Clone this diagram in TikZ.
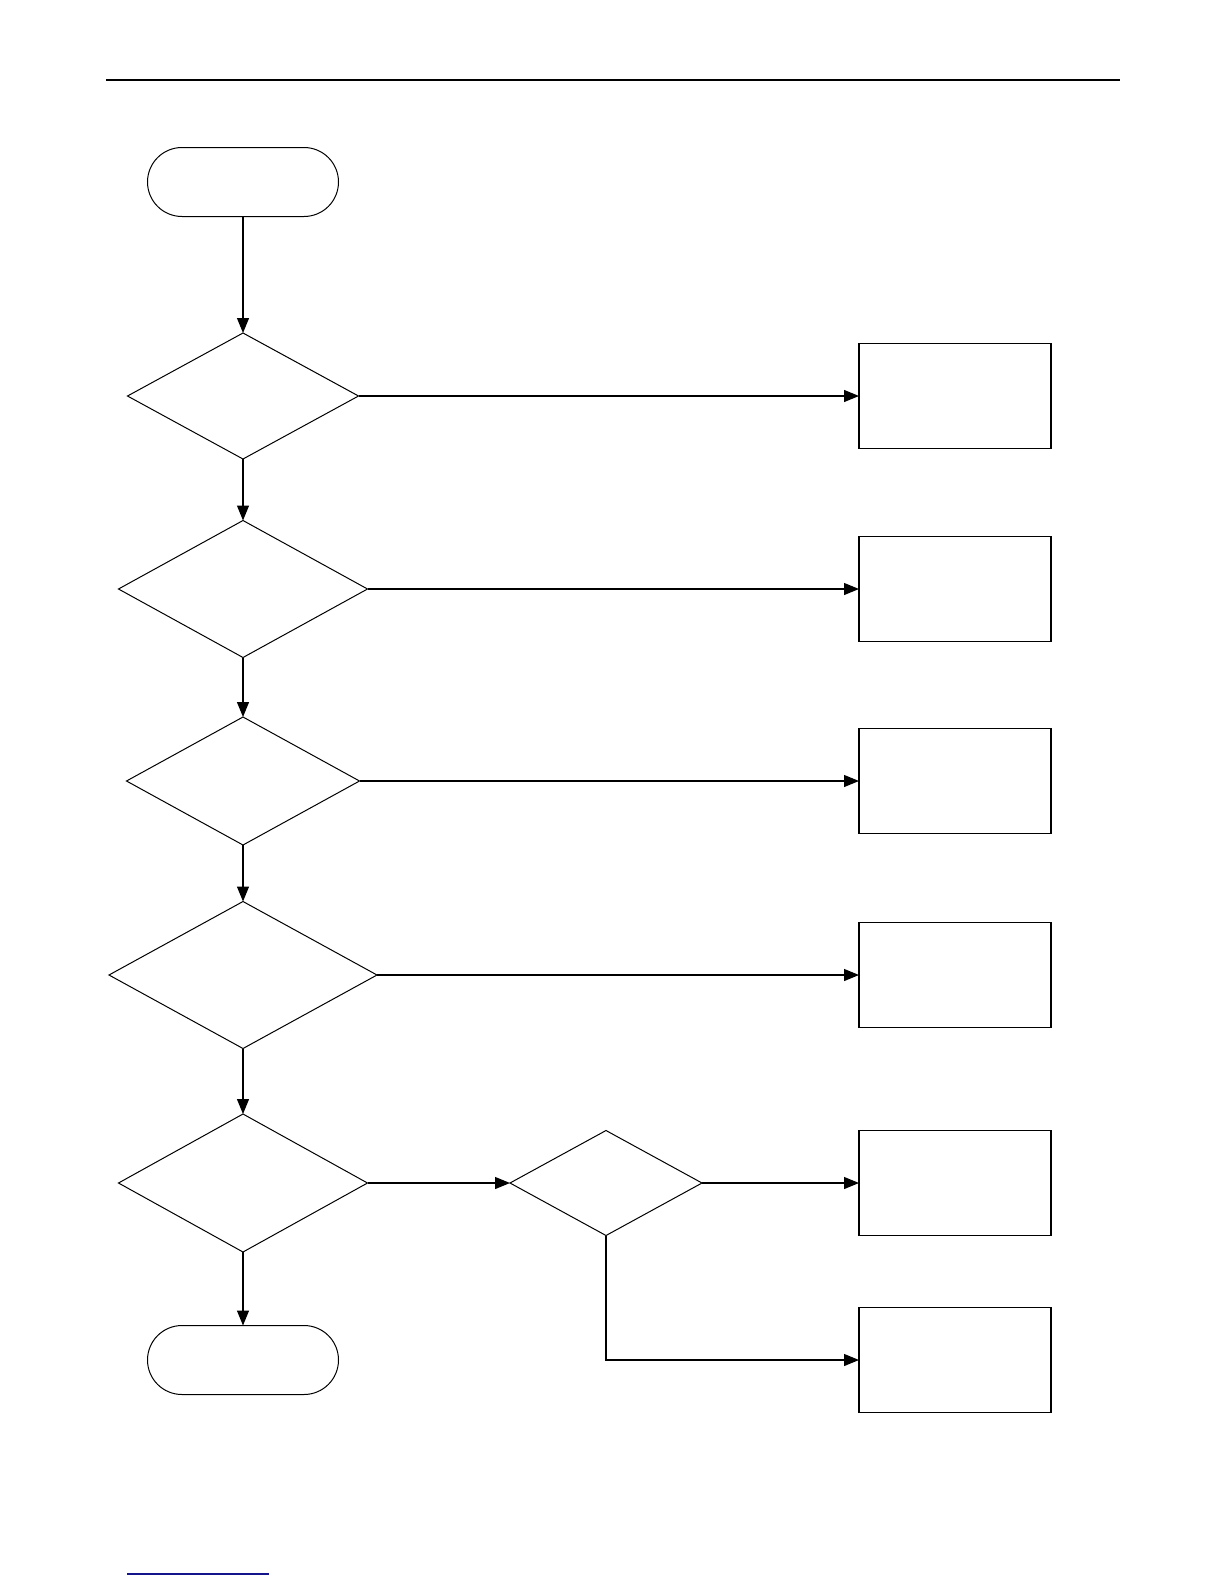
\documentclass[tikz,border=0pt]{standalone}
\usetikzlibrary{shapes.geometric,arrows.meta}
\begin{document}
\begin{tikzpicture}[x=0.5pt,y=-0.5pt,
  every node/.style={inner sep=0pt,outer sep=0pt},
  dia/.style={draw,diamond,line width=0.5pt},
  procbox/.style={draw,rectangle,line width=0.6pt,minimum width=96pt,minimum height=52.5pt},
  term/.style={draw,rectangle,rounded corners=17.25pt,line width=0.5pt,minimum width=95.5pt,minimum height=34.5pt},
  arr/.style={line width=0.6pt,-{Triangle[length=7.5pt,width=6pt]}}]
\useasboundingbox (0,0) rectangle (1224,1584);
% header and footer lines
\coordinate (hl) at (106,80); \coordinate (hr) at (1120,80);
\draw[line width=0.8pt] (hl) -- (hr);
\coordinate (fl) at (127,1574); \coordinate (fr) at (269,1574);
\draw[line width=0.9pt,color={rgb,255:red,20;green,20;blue,140}] (fl) -- (fr);
% terminators
\node[term] (start) at (243,182) {};
\node[term] (stop) at (243,1360) {};
% decisions
\node[dia,minimum width=115.5pt,minimum height=63pt] (d1) at (243,396) {};
\node[dia,minimum width=124.5pt,minimum height=68.5pt] (d2) at (243,589) {};
\node[dia,minimum width=116.5pt,minimum height=64pt] (d3) at (243,781) {};
\node[dia,minimum width=134pt,minimum height=73.5pt] (d4) at (243,975) {};
\node[dia,minimum width=124.5pt,minimum height=69pt] (d5) at (243,1183) {};
\node[dia,minimum width=96pt,minimum height=52.5pt] (d6) at (606,1183) {};
% boxes
\node[procbox] (b1) at (955,396) {};
\node[procbox] (b2) at (955,589) {};
\node[procbox] (b3) at (955,781) {};
\node[procbox] (b4) at (955,975) {};
\node[procbox] (b5) at (955,1183) {};
\node[procbox] (b6) at (955,1360) {};
% connectors
\draw[arr] (start.south) -- (d1.north);
\draw[arr] (d1.south) -- (d2.north);
\draw[arr] (d2.south) -- (d3.north);
\draw[arr] (d3.south) -- (d4.north);
\draw[arr] (d4.south) -- (d5.north);
\draw[arr] (d5.south) -- (stop.north);
\draw[arr] (d1.east) -- (b1.west);
\draw[arr] (d2.east) -- (b2.west);
\draw[arr] (d3.east) -- (b3.west);
\draw[arr] (d4.east) -- (b4.west);
\draw[arr] (d5.east) -- (d6.west);
\draw[arr] (d6.east) -- (b5.west);
\draw[arr] (d6.south) |- (b6.west);
\end{tikzpicture}
\end{document}
